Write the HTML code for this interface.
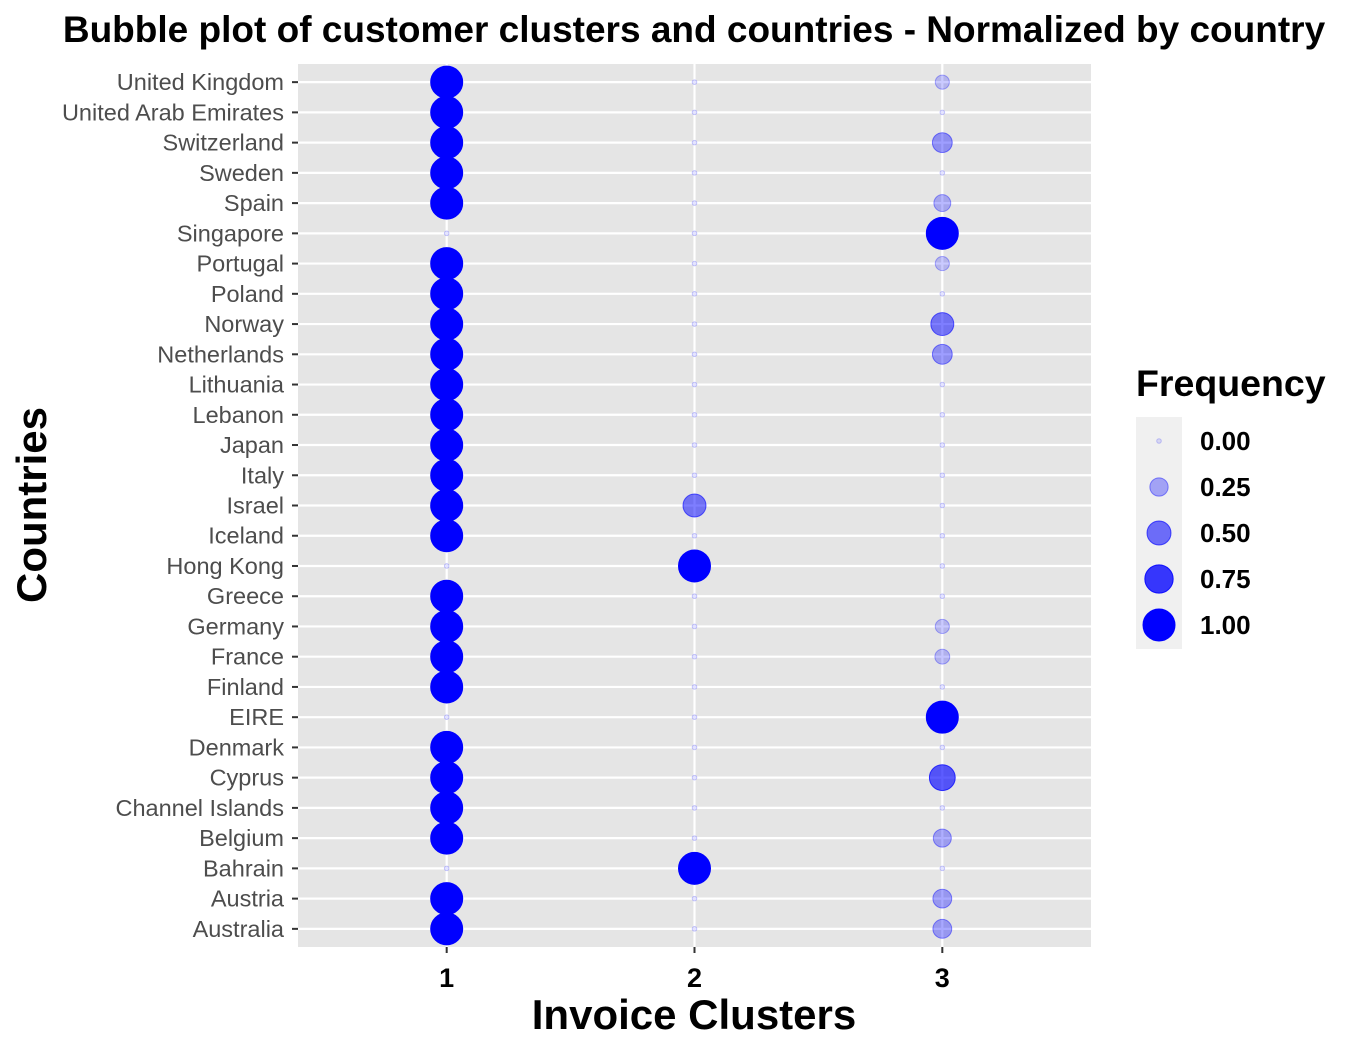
<!DOCTYPE html>
<html><head><meta charset="utf-8"><style>
body{margin:0;background:#fff;}
svg text{font-family:"Liberation Sans",Arial,sans-serif;}
</style></head><body>
<svg id="chart" width="1354" height="1052" xmlns="http://www.w3.org/2000/svg"></svg>
<script>
const countries=["Australia","Austria","Bahrain","Belgium","Channel Islands","Cyprus","Denmark","EIRE","Finland","France","Germany","Greece","Hong Kong","Iceland","Israel","Italy","Japan","Lebanon","Lithuania","Netherlands","Norway","Poland","Portugal","Singapore","Spain","Sweden","Switzerland","United Arab Emirates","United Kingdom"];
const clusters=[1,2,3];
const cluster1=[1,1,0,1,1,1,1,0,1,1,1,1,0,1,1,1,1,1,1,1,1,1,1,0,1,1,1,1,1];
const cluster2=[0,0,1,0,0,0,0,0,0,0,0,0,1,0,0.45,0,0,0,0,0,0,0,0,0,0,0,0,0,0];
const cluster3=[0.27,0.27,0,0.24,0,0.6,0,1,0,0.14,0.12,0,0,0,0,0,0,0,0,0.31,0.45,0,0.12,1,0.2,0,0.31,0,0.12];
const legendValues=[0,0.25,0.5,0.75,1];
const legendLabels=["0.00","0.25","0.50","0.75","1.00"];

const NS="http://www.w3.org/2000/svg";
const svg=document.getElementById('chart');
function mk(tag,attrs,parent){const e=document.createElementNS(NS,tag);for(const k in attrs)e.setAttribute(k,attrs[k]);(parent||svg).appendChild(e);return e;}
const PL=298,PR=1091,PT=64,PB=947;
const xScale=v=>PL+(v-0.4)/3.2*(PR-PL);
const yStep=(PB-PT)/(countries.length-1+1.2);
const yScale=i=>PB-yStep*0.6-i*yStep;
const rScale=v=>2.3+Math.sqrt(v)*13.7;
const aScale=v=>0.1+0.9*v;

const panel=mk('rect',{x:PL,y:PT,width:PR-PL,height:PB-PT,fill:'#e5e5e5'});


countries.forEach((c,i)=>{
  const y=yScale(i);
  const g=mk('line',{x1:PL,x2:PR,y1:y,y2:y,stroke:'#fff','stroke-width':2.2});
  
  
  mk('line',{x1:PL-6,x2:PL,y1:y,y2:y,stroke:'#333','stroke-width':2});
  const t=mk('text',{x:PL-14,y:y+8,'text-anchor':'end','font-size':23.5,fill:'#4d4d4d'});
  t.textContent=c;
  
  
});
clusters.forEach(k=>{
  const x=xScale(k);
  const g=mk('line',{x1:x,x2:x,y1:PT,y2:PB,stroke:'#fff','stroke-width':2.2});
  
  
  mk('line',{x1:x,x2:x,y1:PB,y2:PB+6,stroke:'#333','stroke-width':2});
  const t=mk('text',{x:x,y:PB+40,'text-anchor':'middle','font-size':27,'font-weight':'bold',fill:'#000'});
  t.textContent=k;
  
  
});
const series=[cluster1,cluster2,cluster3];
series.forEach((arr,si)=>{
  arr.forEach((v,i)=>{
    const c=mk('circle',{cx:xScale(clusters[si]),cy:yScale(i),r:rScale(v),fill:'rgba(0,0,255,'+aScale(v)+')',stroke:'rgba(0,0,255,'+Math.min(1,aScale(v)+0.1)+')','stroke-width':1});
    
    
  });
});
const title=mk('text',{x:694,y:42,'text-anchor':'middle','font-size':37,'font-weight':'bold'});
title.textContent='Bubble plot of customer clusters and countries - Normalized by country';


const xt=mk('text',{x:694,y:1029,'text-anchor':'middle','font-size':42,'font-weight':'bold'});
xt.textContent='Invoice Clusters';


const yt=mk('text',{x:46,y:505,'text-anchor':'middle','font-size':42,'font-weight':'bold',transform:'rotate(-90 46 505)'});
yt.textContent='Countries';


const lt=mk('text',{x:1136,y:396,'font-size':37.5,'font-weight':'bold'});
lt.textContent='Frequency';


const lbg=mk('rect',{x:1136,y:417,width:46,height:232,fill:'#f0f0f0'});


legendValues.forEach((v,i)=>{
  const y=441+i*46;
  const c=mk('circle',{cx:1159,cy:y,r:rScale(v),fill:'rgba(0,0,255,'+aScale(v)+')',stroke:'rgba(0,0,255,'+Math.min(1,aScale(v)+0.1)+')','stroke-width':1});
  
  
  const t=mk('text',{x:1200,y:y+9,'font-size':26,'font-weight':'bold'});
  t.textContent=legendLabels[i];
  
  
});
</script>
</body></html>
